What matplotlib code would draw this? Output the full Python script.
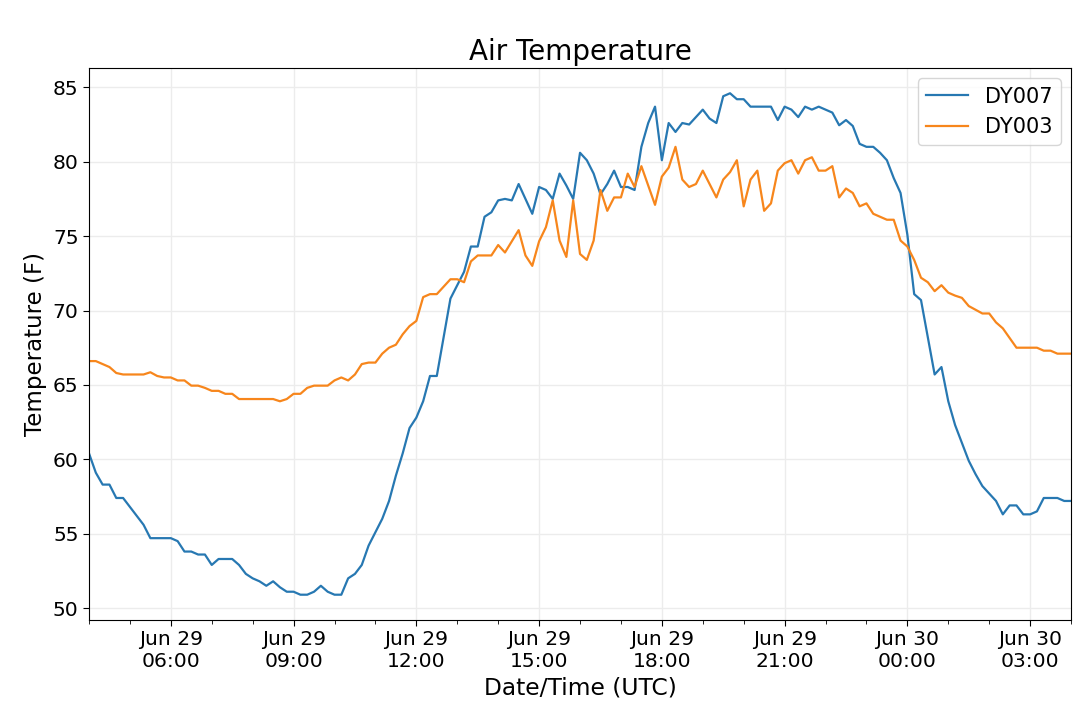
import numpy as np
import pandas as pd
import matplotlib
matplotlib.use("Agg")
import matplotlib.pyplot as plt
import matplotlib.dates as mdates

# 10-minute readings, Jun 29 04:00 to Jun 30 04:00 UTC
times = pd.date_range("2019-06-29 04:00", "2019-06-30 04:00", freq="10min")

dy007 = [
    60.4, 59.1, 58.3, 58.3, 57.4, 57.4, 56.8, 56.2, 55.6, 54.7,
    54.7, 54.7, 54.7, 54.5, 53.8, 53.8, 53.6, 53.6, 52.9, 53.3,
    53.3, 53.3, 52.9, 52.3, 52.0, 51.8, 51.5, 51.8, 51.4, 51.1,
    51.1, 50.9, 50.9, 51.1, 51.5, 51.1, 50.9, 50.9, 52.0, 52.3,
    52.9, 54.2, 55.1, 56.0, 57.2, 58.9, 60.4, 62.1, 62.8, 63.9,
    65.6, 65.6, 68.2, 70.8, 71.7, 72.6, 74.3, 74.3, 76.3, 76.6,
    77.4, 77.5, 77.4, 78.5, 77.5, 76.5, 78.3, 78.1, 77.5, 79.2,
    78.4, 77.5, 80.6, 80.1, 79.2, 77.8, 78.5, 79.4, 78.3, 78.3,
    78.1, 81.0, 82.6, 83.7, 80.1, 82.6, 82.0, 82.6, 82.5, 83.0,
    83.5, 82.9, 82.6, 84.4, 84.6, 84.2, 84.2, 83.7, 83.7, 83.7,
    83.7, 82.8, 83.7, 83.5, 83.0, 83.7, 83.5, 83.7, 83.5, 83.3,
    82.45, 82.8, 82.4, 81.2, 81.0, 81.0, 80.6, 80.1, 78.9, 77.9,
    75.1, 71.1, 70.7, 68.2, 65.7, 66.2, 63.9, 62.3, 61.1, 59.9,
    59.0, 58.2, 57.7, 57.2, 56.3, 56.9, 56.9, 56.3, 56.3, 56.5,
    57.4, 57.4, 57.4, 57.2, 57.2,
]

dy003 = [
    66.6, 66.6, 66.4, 66.2, 65.8, 65.7, 65.7, 65.7, 65.7, 65.85,
    65.6, 65.5, 65.5, 65.3, 65.3, 64.95, 64.95, 64.8, 64.6, 64.6,
    64.4, 64.4, 64.05, 64.05, 64.05, 64.05, 64.05, 64.05, 63.9, 64.05,
    64.4, 64.4, 64.8, 64.95, 64.95, 64.95, 65.3, 65.5, 65.3, 65.7,
    66.4, 66.5, 66.5, 67.1, 67.5, 67.7, 68.4, 68.95, 69.3, 70.9,
    71.1, 71.1, 71.6, 72.1, 72.1, 71.9, 73.3, 73.7, 73.7, 73.7,
    74.4, 73.9, 74.65, 75.4, 73.7, 73.0, 74.65, 75.6, 77.4, 74.7,
    73.6, 77.4, 73.8, 73.4, 74.7, 78.1, 76.7, 77.6, 77.6, 79.2,
    78.3, 79.7, 78.4, 77.1, 79.0, 79.6, 81.0, 78.8, 78.3, 78.5,
    79.4, 78.5, 77.6, 78.8, 79.3, 80.1, 77.0, 78.8, 79.4, 76.7,
    77.2, 79.4, 79.9, 80.1, 79.2, 80.1, 80.3, 79.4, 79.4, 79.7,
    77.6, 78.2, 77.9, 77.0, 77.2, 76.5, 76.3, 76.1, 76.1, 74.7,
    74.3, 73.4, 72.2, 71.9, 71.3, 71.7, 71.2, 71.0, 70.85, 70.3,
    70.05, 69.8, 69.8, 69.2, 68.8, 68.15, 67.5, 67.5, 67.5, 67.5,
    67.3, 67.3, 67.1, 67.1, 67.1,
]

fig = plt.figure(figsize=(10.8, 7.08), dpi=100)
ax = fig.add_axes([0.0824, 0.1243, 0.9093, 0.7797])

ax.plot(times, dy007, color="#2778b2", linewidth=1.6, label="DY007")
ax.plot(times, dy003, color="#f7861c", linewidth=1.6, label="DY003")

ax.set_xlim(times[0], times[-1])
ax.set_ylim(49.2, 86.3)

ax.xaxis.set_major_locator(mdates.HourLocator(byhour=range(0, 24, 3)))
ax.xaxis.set_minor_locator(mdates.HourLocator())
ax.xaxis.set_major_formatter(mdates.DateFormatter("%b %d\n%H:%M"))
ax.set_yticks([50, 55, 60, 65, 70, 75, 80, 85])

ax.grid(True, color="#ececec", linewidth=1)
ax.tick_params(axis="both", which="major", labelsize=14.6, length=4)
ax.tick_params(axis="x", which="minor", length=3)

ax.set_title("Air Temperature", fontsize=20)
ax.set_xlabel("Date/Time (UTC)", fontsize=16.8)
ax.set_ylabel("Temperature (F)", fontsize=16.5)
ax.legend(loc="upper right", fontsize=15)

fig.savefig("out.png", dpi=100)
